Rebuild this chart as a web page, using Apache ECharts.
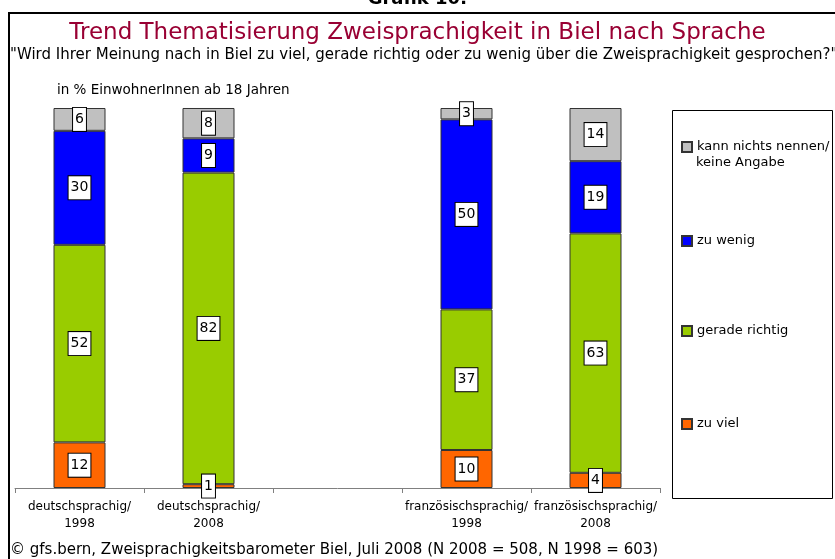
<!DOCTYPE html>
<html>
<head>
<meta charset="utf-8">
<script src="https://cdn.jsdelivr.net/npm/echarts@6/dist/echarts.min.js"></script>
<style>
  html, body { margin: 0; padding: 0; background: #fff; }
  #chart { width: 835px; height: 559px; }
</style>
</head>
<body>
<div id="chart"></div>
<script>
// categories on the x axis (the empty one is the gap in the middle)
var categories = ['deutschsprachig/\n1998', 'deutschsprachig/\n2008', '', 'französischsprachig/\n1998', 'französischsprachig/\n2008']

// shares in %, stacked from the bottom up
var zuViel = [12, 1, null, 10, 4]
var geradeRichtig = [52, 82, null, 37, 63]
var zuWenig = [30, 9, null, 50, 19]
var keineAngabe = [6, 8, null, 3, 14]

var seriesNames = ['zu viel', 'gerade richtig', 'zu wenig', 'kann nichts nennen/']
var seriesColors = ['#FF6600', '#99CC00', '#0000FF', '#C0C0C0']

var font = '"DejaVu Sans", Tahoma, sans-serif'

var chart = echarts.init(document.getElementById('chart'))

function barSeries(name, color, data) {
  return {
    name: name,
    type: 'bar',
    stack: 'total',
    barWidth: 52,
    data: data,
    itemStyle: {
      color: color,
      borderColor: '#333',
      borderWidth: 1,
    },
    label: {
      show: true,
      position: 'inside',
      color: '#000',
      fontFamily: font,
      fontSize: 14,
      backgroundColor: '#fff',
      borderColor: '#000',
      borderWidth: 1,
      padding: [5, 2, 4, 2],
    },
    animation: false,
  }
}

function legendItem(name, top) {
  return {
    data: [name],
    left: 676,
    top: top,
    icon: 'rect',
    itemWidth: 10,
    itemHeight: 10,
    selectedMode: false,
    textStyle: {
      fontFamily: font,
      fontSize: 13,
      lineHeight: 18,
      color: '#000',
    },
  }
}

function textBlock(text, left, top, size, color, weight) {
  return {
    text: text,
    left: left,
    top: top,
    textStyle: { fontFamily: font, fontSize: size, fontWeight: weight || 'normal', color: color || '#000' },
  }
}

chart.setOption({
  animation: false,
  title: [
    Object.assign(textBlock('Grafik 10:', 0, -15, 18, '#000', 'bold'), { left: 'center' }),
    Object.assign(textBlock('Trend Thematisierung Zweisprachigkeit in Biel nach Sprache', 0, 17, 23, '#990033'), { left: 'center' }),
    textBlock('"Wird Ihrer Meinung nach in Biel zu viel, gerade richtig oder zu wenig über die Zweisprachigkeit gesprochen?"', 5, 43, 15),
    textBlock('in % EinwohnerInnen ab 18 Jahren', 52, 78, 13.5),
    textBlock('© gfs.bern, Zweisprachigkeitsbarometer Biel, Juli 2008 (N 2008 = 508, N 1998 = 603)', 5, 538, 15),
    // second line of the first legend entry
    textBlock('keine Angabe', 691, 151, 13),
  ],
  legend: [
    legendItem(seriesNames[3], 133),
    legendItem(seriesNames[2], 227),
    legendItem(seriesNames[1], 317),
    legendItem(seriesNames[0], 410),
  ],
  grid: {
    left: 15,
    right: 175,
    top: 108,
    bottom: 71,
  },
  xAxis: {
    type: 'category',
    data: categories,
    axisLine: { lineStyle: { color: '#808080', width: 1 } },
    axisTick: { show: true, length: 5, lineStyle: { color: '#808080' } },
    axisLabel: {
      interval: 0,
      margin: 10,
      color: '#000',
      fontFamily: font,
      fontSize: 12,
      lineHeight: 17,
    },
  },
  yAxis: {
    type: 'value',
    min: 0,
    max: 100,
    show: false,
  },
  graphic: [
    {
      type: 'rect',
      shape: { x: 9, y: 13, width: 840, height: 560 },
      style: { fill: 'none', stroke: '#000', lineWidth: 2 },
      silent: true,
    },
    {
      type: 'rect',
      shape: { x: 672.5, y: 110.5, width: 160, height: 388 },
      style: { fill: 'none', stroke: '#000', lineWidth: 1 },
      silent: true,
    },
  ],
  series: [
    barSeries(seriesNames[0], seriesColors[0], zuViel),
    barSeries(seriesNames[1], seriesColors[1], geradeRichtig),
    barSeries(seriesNames[2], seriesColors[2], zuWenig),
    barSeries(seriesNames[3], seriesColors[3], keineAngabe),
  ],
})
</script>
</body>
</html>
